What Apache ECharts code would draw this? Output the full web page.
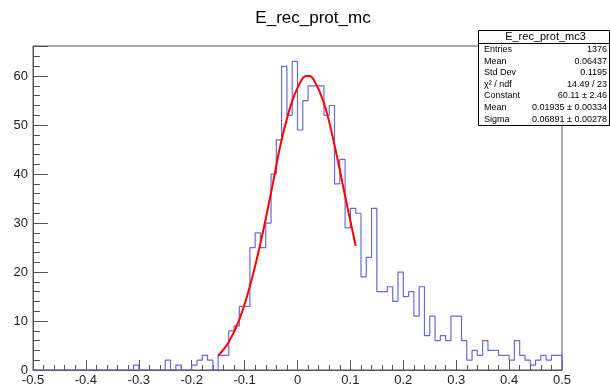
<!DOCTYPE html>
<html>
<head>
<meta charset="utf-8">
<script src="https://cdn.jsdelivr.net/npm/echarts@6/dist/echarts.min.js"></script>
<style>
html,body{margin:0;padding:0;background:#fff;}
#c{width:610px;height:387px;}
</style>
</head>
<body>
<div id="c"></div>
<script>
// ---- data ----
const histTitle = "E_rec_prot_mc";
const binLow = -0.5;
const binWidth = 0.01;
// counts per bin (100 bins from -0.5 to 0.5)
const counts = [
  0,0,0,0,0,0,0,0,0,0,
  0,0,0,0,0,0,0,0,0,1,
  0,0,0,0,0,2,0,1,0,0,
  1,2,3,2,0,3,3,8,9,13,
  13,25,28,25,30,40,47,62,52,63,
  49,55,58,58,58,52,54,38,43,29,
  33,32,19,23,33,16,16,17,14,20,
  15,16,11,17,7,11,6,7,6,11,
  11,6,2,4,3,6,4,4,3,3,
  2,6,3,2,1,2,3,2,3,3
];
// fit curve
const fitX = [-0.15,-0.13,-0.11,-0.09,-0.07,-0.05,-0.03,-0.01,0.01,0.02,0.03,0.05,0.07,0.09,0.11];
const fitY = [2.9,5.7,10.3,17.1,25.9,36.2,47.0,54.9,59.6,60.1,59.4,54.5,45.9,35.5,25.3];
const xTicks = [-0.5,-0.4,-0.3,-0.2,-0.1,0,0.1,0.2,0.3,0.4,0.5];
const statsName = "E_rec_prot_mc3";
const statsLabels = ["Entries","Mean","Std Dev","\u03c7\u00b2 / ndf","Constant","Mean","Sigma"];
const statsValues = ["1376","0.06437","0.1195","14.49 / 23","60.11 \u00b1 2.46","0.01935 \u00b1 0.00334","0.06891 \u00b1 0.00278"];

// ---- build ----
const histData = [];
counts.forEach((v,i)=>{ histData.push([+(binLow + i*binWidth).toFixed(4), v]); });
histData.push([+(binLow + counts.length*binWidth).toFixed(4), counts[counts.length-1]]);
histData.push([+(binLow + counts.length*binWidth).toFixed(4), 0]);
const fitData = fitX.map((x,i)=>[x, fitY[i]]);

const FONT = "Liberation Sans, Arial, sans-serif";
const chart = echarts.init(document.getElementById('c'), null, {renderer:'canvas'});

const gfx = [];
gfx.push({type:'text', style:{text:histTitle, x:313, y:18, textAlign:'center', textVerticalAlign:'middle', font:'17px '+FONT, fill:'#000'}, z:10});
// stats box
const bx=478, by=30, bw=131, bh=95;
gfx.push({type:'rect', shape:{x:bx+0.5,y:by+0.5,width:bw,height:bh}, style:{fill:'#fff', stroke:'#000', lineWidth:1}, z:20});
gfx.push({type:'line', shape:{x1:bx,y1:by+13.5,x2:bx+bw,y2:by+13.5}, style:{stroke:'#000', lineWidth:1}, z:21});
gfx.push({type:'text', style:{text:statsName, x:bx+bw/2+2, y:by+7, textAlign:'center', textVerticalAlign:'middle', font:'11px '+FONT, fill:'#000'}, z:22});
statsLabels.forEach((t,i)=>{
  const yy = by + 19.5 + i*11.6;
  gfx.push({type:'text', style:{text:t, x:bx+6, y:yy, textAlign:'left', textVerticalAlign:'middle', font:'9px '+FONT, fill:'#000'}, z:22});
  gfx.push({type:'text', style:{text:statsValues[i], x:bx+bw-2, y:yy, textAlign:'right', textVerticalAlign:'middle', font:'9px '+FONT, fill:'#000'}, z:22});
});

chart.setOption({
  animation:false,
  backgroundColor:'#fff',
  grid:{left:33, right:48, top:46, bottom:16, show:true, borderColor:'#555', borderWidth:1, backgroundColor:'transparent'},
  xAxis:{
    type:'value', min:xTicks[0], max:xTicks[xTicks.length-1], interval:0.1,
    axisLine:{show:true, onZero:false, lineStyle:{color:'#555', width:1}},
    axisTick:{show:true, inside:true, length:10, lineStyle:{color:'#555'}},
    minorTick:{show:true, splitNumber:5, length:5, lineStyle:{color:'#555'}},
    splitLine:{show:false},
    axisLabel:{color:'#222', fontSize:13, fontFamily:FONT, margin:4,
      formatter:(v)=>{ const r=Math.round(v*10)/10; return r===0?'0':r.toFixed(1);} }
  },
  yAxis:{
    type:'value', min:0, max:66.15, interval:10,
    axisLine:{show:true, onZero:false, lineStyle:{color:'#555', width:1}},
    axisTick:{show:true, inside:true, length:15, lineStyle:{color:'#555'}},
    minorTick:{show:true, splitNumber:5, length:7, lineStyle:{color:'#555'}},
    splitLine:{show:false},
    axisLabel:{color:'#222', fontSize:13, fontFamily:FONT, margin:5, showMaxLabel:false}
  },
  series:[
    {type:'line', data:histData, step:'end', showSymbol:false, symbol:'none',
     lineStyle:{color:'#6a6ad8', width:1.2}, z:3},
    {type:'line', data:fitData, smooth:0.4, showSymbol:false, symbol:'none',
     lineStyle:{color:'#ff0000', width:2}, z:4}
  ],
  graphic:gfx
});
</script>
</body>
</html>
